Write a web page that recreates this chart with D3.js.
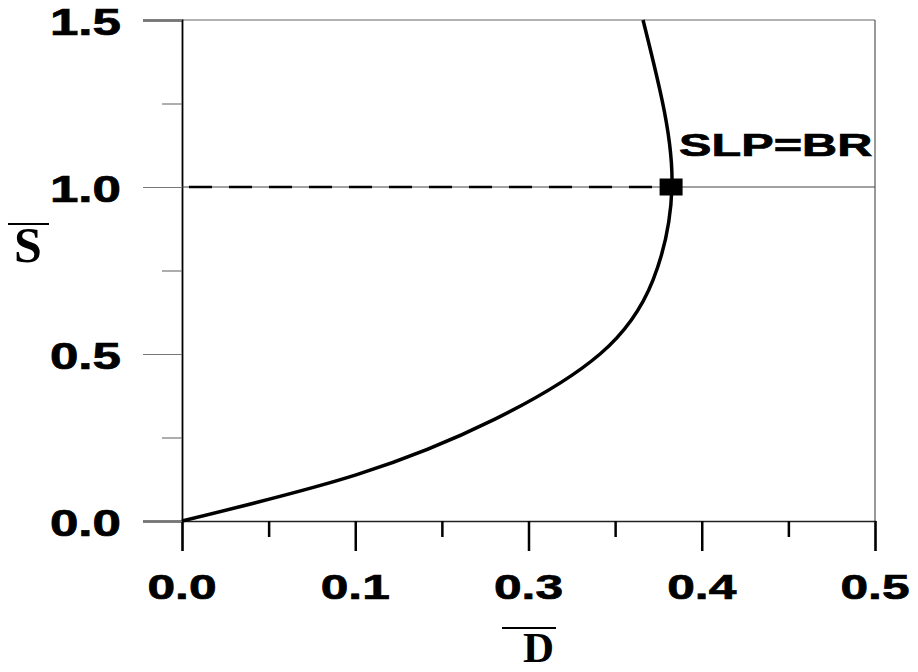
<!DOCTYPE html>
<html lang="en">
  <head>
    <meta charset="utf-8" />
    <title>S vs D</title>
    <script src="https://cdn.jsdelivr.net/npm/d3@7"></script>
    <style>
      body {
        margin: 0;
        background: #fff;
      }
      .tick-label {
        font-family: "Liberation Sans", Arial, sans-serif;
        font-weight: bold;
        fill: #000;
        stroke: #000;
        stroke-width: 0.7;
      }
      .title {
        font-family: "Liberation Serif", "Times New Roman", serif;
        font-weight: bold;
        fill: #000;
      }
    </style>
  </head>

  <body>
    <svg id="chart"></svg>

    <script>
      // tick values / labels as printed on the axes
      const xTickValues = [0, 0.1, 0.3, 0.4, 0.5];
      const xTickLabels = ["0.0", "0.1", "0.3", "0.4", "0.5"];
      const xMinorValues = [0.05, 0.2, 0.35, 0.45];
      const yTickValues = [0, 0.5, 1.0, 1.5];
      const yTickLabels = ["0.0", "0.5", "1.0", "1.5"];
      const yMinorValues = [0.25, 0.75, 1.25];

      // curve
      const dValues = [0, 0.1009, 0.2613, 0.3413, 0.3719, 0.3828, 0.3771, 0.3661];
      const sValues = [0, 0.138, 0.305, 0.5, 0.722, 1.0, 1.26, 1.5];

      // the marked point
      const markD = [0.3823];
      const markS = [1.0];
      const markLabel = "SLP=BR";

      const margin = { top: 20, bottom: 151, left: 182, right: 43 };
      const width = 918 - margin.left - margin.right;
      const height = 672 - margin.top - margin.bottom;

      const svg = d3.select("#chart").attr("width", 918).attr("height", 672);
      const g = svg.append("g").attr("transform", `translate(${margin.left},${margin.top})`);

      // x labels are evenly spaced on the page, so map them piecewise
      const xscale = d3
        .scaleLinear()
        .domain(xTickValues)
        .range(xTickValues.map((d, i) => (i * width) / (xTickValues.length - 1)));
      const yscale = d3.scaleLinear().domain([0, 1.5]).range([height, 0]);

      // frame: top and right thin grey
      g.append("line").attr("x1", 0).attr("x2", width).attr("y1", 0).attr("y2", 0)
        .attr("stroke", "#666").attr("stroke-width", 1);
      g.append("line").attr("x1", width).attr("x2", width).attr("y1", 0).attr("y2", height)
        .attr("stroke", "#555").attr("stroke-width", 1.2);

      // x axis: ticks point down
      const xaxis = d3.axisBottom(xscale).tickValues(xTickValues).tickSize(30).tickFormat("");
      const g_xaxis = g.append("g").attr("transform", `translate(0,${height})`).call(xaxis);
      g_xaxis.selectAll(".tick line").attr("stroke", "#000").attr("stroke-width", 2.5);
      const xminor = d3.axisBottom(xscale).tickValues(xMinorValues).tickSize(16).tickFormat("");
      const g_xminor = g.append("g").attr("transform", `translate(0,${height})`).call(xminor);
      g_xminor.select(".domain").remove();
      g_xminor.selectAll(".tick line").attr("stroke", "#000").attr("stroke-width", 2.5);
      g_xaxis.select(".domain").attr("stroke", "#222").attr("stroke-width", 1.5);

      g.selectAll(".xlabel")
        .data(xTickValues)
        .join("text")
        .attr("class", "tick-label xlabel")
        .attr("text-anchor", "middle")
        .attr("font-size", 35)
        .attr("transform", d => `translate(${xscale(d)},${height + 78}) scale(1.42,1)`)
        .text((d, i) => xTickLabels[i]);

      // y axis: ticks point left
      const yaxis = d3.axisLeft(yscale).tickValues(yTickValues).tickSize(39).tickFormat("");
      const g_yaxis = g.append("g").call(yaxis);
      g_yaxis.selectAll(".tick line").attr("stroke", "#777").attr("stroke-width", 1.2);
      const yminor = d3.axisLeft(yscale).tickValues(yMinorValues).tickSize(20).tickFormat("");
      const g_yminor = g.append("g").call(yminor);
      g_yminor.select(".domain").remove();
      g_yminor.selectAll(".tick line").attr("stroke", "#777").attr("stroke-width", 1.2);
      g_yaxis.select(".domain").attr("stroke", "#000").attr("stroke-width", 1.8);

      g.selectAll(".ylabel")
        .data(yTickValues)
        .join("text")
        .attr("class", "tick-label ylabel")
        .attr("text-anchor", "end")
        .attr("font-size", 36)
        .attr("transform", d => `translate(-61,${yscale(d) + 15}) scale(1.42,1)`)
        .text((d, i) => yTickLabels[i]);

      // reference line at S = 1: thin across, dashed up to the marker
      g.append("line")
        .attr("x1", 0).attr("x2", width)
        .attr("y1", yscale(markS[0])).attr("y2", yscale(markS[0]))
        .attr("stroke", "#444").attr("stroke-width", 1.2);
      g.append("line")
        .attr("x1", 0).attr("x2", xscale(markD[0]))
        .attr("y1", yscale(markS[0])).attr("y2", yscale(markS[0]))
        .attr("stroke", "#000").attr("stroke-width", 2.5)
        .attr("stroke-dasharray", "23,17")
        .attr("stroke-dashoffset", 33);

      // the curve
      const points = dValues.map((d, i) => [d, sValues[i]]);
      const line = d3
        .line()
        .x(d => xscale(d[0]))
        .y(d => yscale(d[1]))
        .curve(d3.curveNatural);
      g.append("path")
        .datum(points)
        .attr("fill", "none")
        .attr("stroke", "#000")
        .attr("stroke-width", 3.5)
        .attr("d", line);

      // marker + label
      g.selectAll(".mark")
        .data(markD)
        .join("rect")
        .attr("class", "mark")
        .attr("x", d => xscale(d) - 11.5)
        .attr("y", (d, i) => yscale(markS[i]) - 8.5)
        .attr("width", 23)
        .attr("height", 17)
        .attr("fill", "#000");

      g.append("text")
        .attr("class", "tick-label")
        .attr("font-size", 32)
        .attr("transform", `translate(${xscale(markD[0]) + 8},${yscale(markS[0]) - 31}) scale(1.52,1)`)
        .text(markLabel);

      // axis titles with overbars
      function barTitle(txt, x, y, size, barX1, barX2, barY) {
        svg.append("text")
          .attr("class", "title")
          .attr("text-anchor", "middle")
          .attr("font-size", size)
          .attr("x", x)
          .attr("y", y)
          .text(txt);
        svg.append("line")
          .attr("x1", barX1).attr("x2", barX2)
          .attr("y1", barY).attr("y2", barY)
          .attr("stroke", "#000").attr("stroke-width", 2.2);
      }
      barTitle("S", 28, 262, 50, 8, 49, 224);
      barTitle("D", 538.5, 662, 43, 502, 556, 628);
    </script>
  </body>
</html>
